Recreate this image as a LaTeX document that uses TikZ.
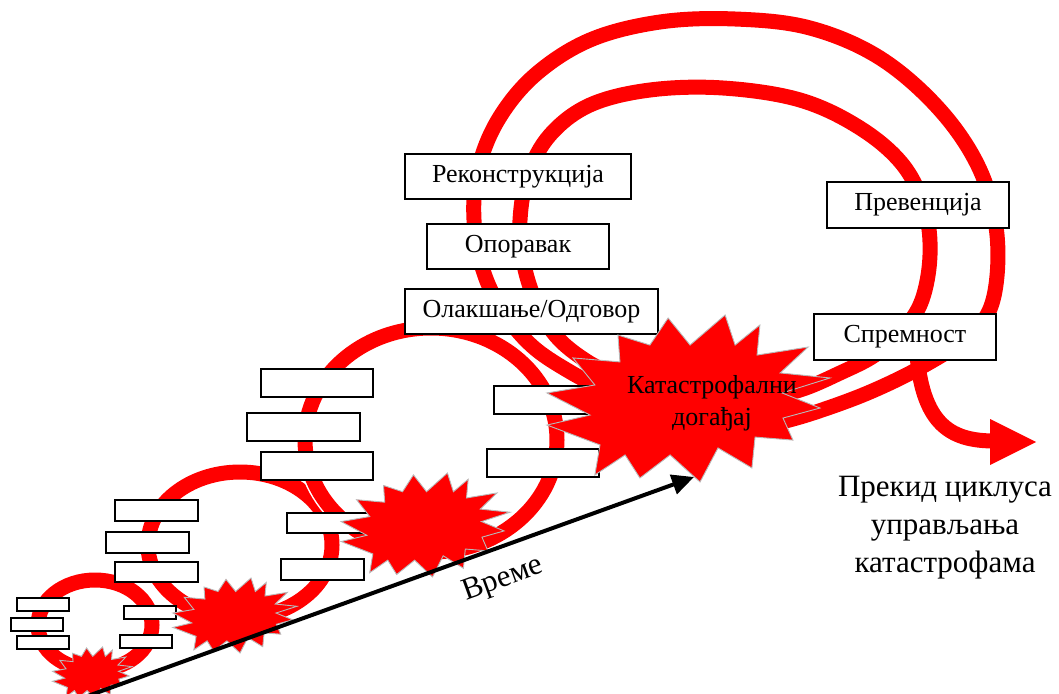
\documentclass[tikz,border=0pt]{standalone}
\usepackage{fontspec}
\setmainfont{Liberation Serif}
\usetikzlibrary{arrows.meta}
\definecolor{bandred}{RGB}{255,0,0}
\definecolor{starline}{RGB}{185,185,185}
\tikzset{
  band/.style={draw=bandred, line width=15pt, preaction={draw=white, line width=18pt}},
  plainband/.style={draw=bandred, line width=15pt},
  box/.style={draw=black, fill=white, line width=1.6pt, inner sep=0pt},
  lbl/.style={font=\fontsize{26}{31}\selectfont},
  boom/.style={fill=bandred, draw=starline, line width=0.9pt, line join=miter},
}
\newcommand\ebox[5]{\node[box, minimum width=#4pt, minimum height=#5pt] (#1) at (#2,#3) {};}
\newcommand\explosion[4]{%
 \begin{scope}[shift={(#1,#2)}, xscale=#3, yscale=#4]
 \path[boom] (0.432,0.018) -- (0.509,0.180) -- (0.632,0.000) -- (0.667,0.180)
  -- (0.754,0.060) -- (0.744,0.240) -- (0.923,0.192) -- (0.825,0.347)
  -- (1.000,0.377) -- (0.832,0.467) -- (0.965,0.557) -- (0.835,0.617)
  -- (0.870,0.749) -- (0.737,0.731) -- (0.726,0.916) -- (0.607,0.796)
  -- (0.544,1.000) -- (0.439,0.838) -- (0.333,0.976) -- (0.281,0.838)
  -- (0.175,0.958) -- (0.193,0.778) -- (0.007,0.659) -- (0.158,0.599)
  -- (0.007,0.467) -- (0.175,0.419) -- (0.098,0.257) -- (0.263,0.281)
  -- (0.256,0.120) -- (0.368,0.180) -- cycle;
 \end{scope}}
\begin{document}
\begin{tikzpicture}[x=1pt,y=-1pt]
\useasboundingbox (0,0) rectangle (1059,693);
% small rings
\draw[band] (95,625) circle [x radius=57, y radius=45];
\draw[band] (240,545) circle [x radius=92, y radius=73];
\draw[band] (431,440) circle [x radius=126, y radius=112];
% big inner loop
\draw[band] plot[smooth, tension=0.6] coordinates {(625,380) (588,362) (556,336) (535,300) (523,260) (520,220) (528,175) (550,135) (590,105) (650,90) (723,88) (800,100) (860,128) (903,165) (925,210) (930,255) (922,300) (903,330) (875,355) (840,373) (800,390) (755,400)};
% big outer loop
\draw[band] plot[smooth, tension=0.6] coordinates {(615,395) (572,373) (532,346) (502,310) (483,270) (474,220) (478,170) (498,120) (535,75) (590,40) (660,22) (735,19) (810,28) (880,58) (940,110) (980,170) (997,235) (993,300) (970,335) (925,365) (870,392) (813,413) (770,425) (740,432)};
% exit arrow
\coordinate (exA) at (916,335);
\coordinate (exB) at (995,441);
\draw[plainband] (exA) .. controls (918,425) and (950,441) .. (exB);
\fill[bandred] (990,419) -- (1036,442) -- (990,465) -- cycle;
% labelled boxes
\node[box, lbl, minimum width=226pt, minimum height=45pt] (rec) at (518,176.5) {Реконструкција};
\node[box, lbl, minimum width=182pt, minimum height=45pt] (opo) at (518,246.5) {Опоравак};
\node[box, lbl, minimum width=253pt, minimum height=45pt] (ola) at (531.5,311.5) {Олакшање/Одговор};
\node[box, lbl, minimum width=182pt, minimum height=46pt] (pre) at (918,205) {Превенција};
\node[box, lbl, minimum width=182pt, minimum height=46pt] (spr) at (905,337) {Спремност};
% empty boxes
\ebox{t3a}{317}{383}{112}{28}
\ebox{t3b}{303.5}{427}{113}{28}
\ebox{t3c}{317}{466}{112}{28}
\ebox{t3d}{550}{400}{112}{28}
\ebox{t3e}{543}{463}{112}{28}
\ebox{t2a}{156.5}{510.5}{83}{21}
\ebox{t2b}{147.5}{542.5}{83}{21}
\ebox{t2c}{156.5}{572}{83}{20}
\ebox{t2d}{328.5}{523}{83}{20}
\ebox{t2e}{322.5}{569.5}{83}{21}
\ebox{t1a}{43}{604.5}{52}{13}
\ebox{t1b}{37}{624.5}{52}{13}
\ebox{t1c}{43}{642.5}{52}{13}
\ebox{t1d}{150}{612.5}{52}{13}
\ebox{t1e}{146}{641.5}{52}{13}
% explosions
\explosion{52}{647}{80}{52}
\explosion{172}{578}{125}{75}
\explosion{340}{473}{170}{104}
\explosion{545}{315}{285}{167}
\node[align=center, font=\fontsize{26}{32}\selectfont] (kat) at (712,403) {Катастрофални\\догађај};
% time arrow
\coordinate (t0) at (85,697);
\coordinate (t1) at (694,477);
\draw[line width=4pt, -{Triangle[length=22pt, width=20pt]}] (t0) -- (t1);
\node[rotate=20, font=\fontsize{31}{37}\selectfont] (vreme) at (503,580) {Време};
\node[align=center, font=\fontsize{31}{38}\selectfont] (prekid) at (945,528) {Прекид циклуса\\управљања\\катастрофама};
\end{tikzpicture}
\end{document}
